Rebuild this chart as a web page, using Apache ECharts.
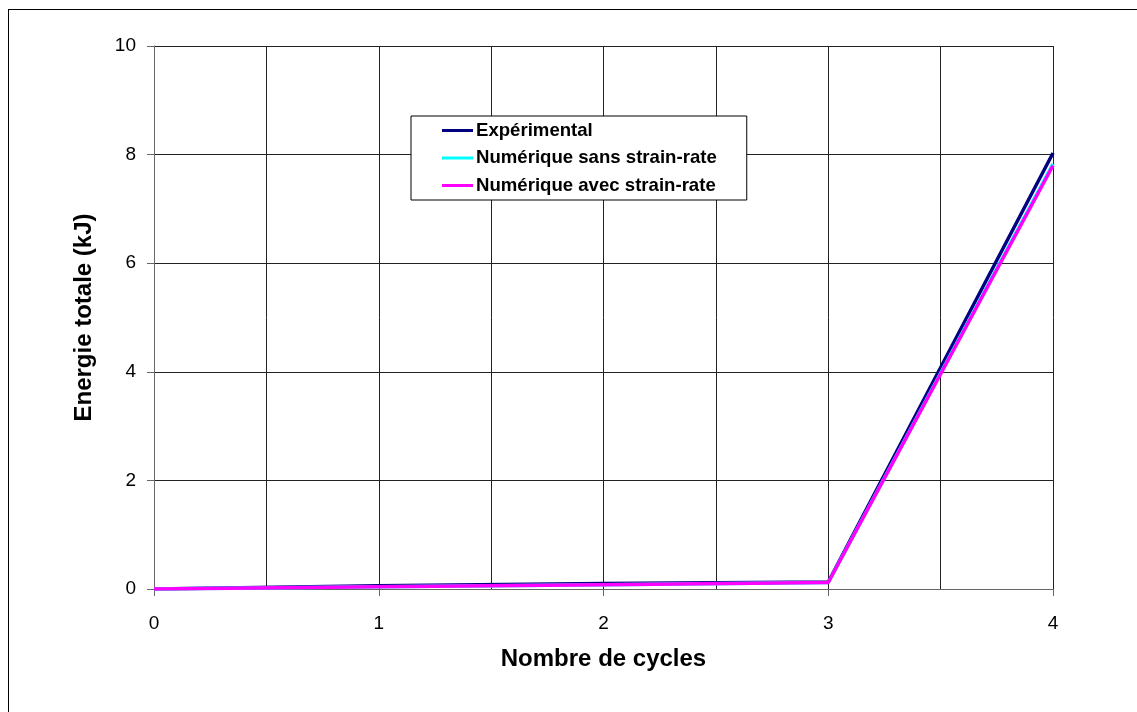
<!DOCTYPE html>
<html>
<head>
<meta charset="utf-8">
<script src="https://cdn.jsdelivr.net/npm/echarts@6/dist/echarts.min.js"></script>
<style>
  html, body { margin: 0; padding: 0; background: #fff; }
  #frame { position: absolute; left: 8px; top: 9px; width: 1200px; height: 800px; border: 1px solid #000; }
  #chart { position: absolute; left: 0; top: 0; width: 1137px; height: 712px; }
</style>
</head>
<body>
<div id="frame"></div>
<div id="chart"></div>
<script>
// nombre de cycles
const cycles = [0, 1, 2, 3, 4]
// energie totale (kJ)
const experimental = [0, 0.06, 0.10, 0.13, 8.03]
const sansStrainRate = [0, 0.04, 0.08, 0.12, 7.83]
const avecStrainRate = [0, 0.04, 0.08, 0.12, 7.80]
const seriesNames = ['Expérimental', 'Numérique sans strain-rate', 'Numérique avec strain-rate']
const seriesColors = ['#000080', '#00FFFF', '#FF00FF']

const font = '"Liberation Sans", Arial, sans-serif'
const toPoints = (ys) => cycles.map((x, i) => [x, ys[i]])

let myChart = echarts.init(document.getElementById('chart'))
let option = {
  animation: false,
  backgroundColor: 'transparent',
  grid: { left: 154, right: 84, top: 46, bottom: 123 },
  legend: {
    orient: 'vertical',
    left: 411,
    top: 116,
    backgroundColor: '#fff',
    borderColor: '#000',
    borderWidth: 1,
    padding: [5, 30, 5, 31],
    itemGap: 8.5,
    itemWidth: 31,
    itemHeight: 3,
    icon: 'rect',
    textStyle: { fontFamily: font, fontSize: 18.6, fontWeight: 'bold', color: '#000', lineHeight: 18, padding: [0, 0, 0, -2] },
    data: seriesNames
  },
  xAxis: {
    type: 'value',
    min: 0,
    max: 4,
    interval: 1,
    name: 'Nombre de cycles',
    nameLocation: 'middle',
    nameGap: 58,
    nameTextStyle: { fontFamily: font, fontSize: 24, fontWeight: 'bold', color: '#000' },
    axisLine: { show: true, onZero: false, lineStyle: { color: '#666', width: 1 } },
    axisTick: { show: true, length: 7, lineStyle: { color: '#666' } },
    axisLabel: { fontFamily: font, fontSize: 19, color: '#000', margin: 25 },
    splitLine: { show: true, lineStyle: { color: '#222', width: 1 } },
    minorTick: { show: false, splitNumber: 2 },
    minorSplitLine: { show: true, lineStyle: { color: '#222', width: 1 } }
  },
  yAxis: {
    type: 'value',
    min: 0,
    max: 10,
    interval: 2,
    name: 'Energie totale (kJ)',
    nameLocation: 'middle',
    nameGap: 58,
    nameTextStyle: { fontFamily: font, fontSize: 24, fontWeight: 'bold', color: '#000' },
    axisLine: { show: true, lineStyle: { color: '#666', width: 1 } },
    axisTick: { show: true, length: 7, lineStyle: { color: '#666' } },
    axisLabel: { fontFamily: font, fontSize: 19, color: '#000', margin: 18 },
    splitLine: { show: true, lineStyle: { color: '#222', width: 1 } }
  },
  series: [
    {
      name: seriesNames[0],
      type: 'line',
      data: toPoints(experimental),
      symbol: 'none',
      color: seriesColors[0],
      lineStyle: { color: seriesColors[0], width: 3.5 }
    },
    {
      name: seriesNames[1],
      type: 'line',
      data: toPoints(sansStrainRate),
      symbol: 'none',
      color: seriesColors[1],
      lineStyle: { color: seriesColors[1], width: 3.5 }
    },
    {
      name: seriesNames[2],
      type: 'line',
      data: toPoints(avecStrainRate),
      symbol: 'none',
      color: seriesColors[2],
      lineStyle: { color: seriesColors[2], width: 3.5 }
    }
  ]
}
myChart.setOption(option)
</script>
</body>
</html>
